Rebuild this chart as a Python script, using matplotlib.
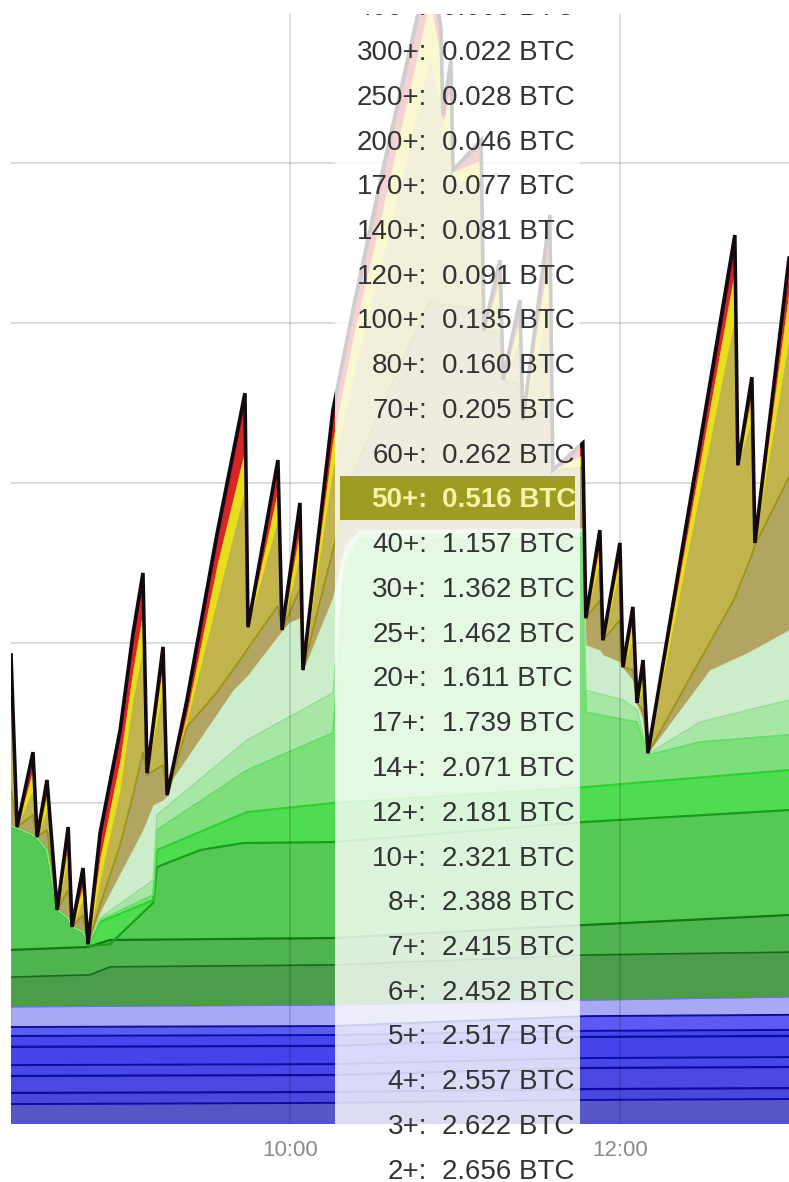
import matplotlib
matplotlib.use("Agg")
import matplotlib.pyplot as plt
from matplotlib.patches import Rectangle

plt.rcParams['font.family'] = ['Liberation Sans', 'DejaVu Sans']

# ---------------- data (time = minutes after midnight, value = BTC, cumulative stack tops)
top_t = [498.5, 500.7, 506.5, 508.0, 511.6, 515.3, 519.3, 520.7, 524.7, 526.5, 530.9, 538.2,
         542.9, 546.5, 548.0, 553.8, 555.3, 562.5, 573.5, 583.6, 584.7, 595.6, 597.1, 603.6,
         604.7, 615.6, 623.6, 634.5, 650.9, 654.9, 655.6, 658.5, 659.3, 669.5, 670.5, 676.4,
         677.5, 683.6, 684.7, 694.5, 695.6, 706.5, 707.6, 712.7, 713.8, 720.0, 721.1, 724.7,
         726.2, 728.4, 730.2, 761.8, 762.9, 768.0, 769.1, 781.5]
fee_all = [1.463, 0.925, 1.159, 0.894, 1.072, 0.666, 0.925, 0.613, 0.797, 0.559, 0.906, 1.228,
           1.531, 1.719, 1.094, 1.488, 1.025, 1.322, 1.844, 2.281, 1.550, 2.072, 1.541, 1.938,
           1.416, 2.228, 2.572, 3.009, 3.634, 3.422, 3.150, 3.322, 2.978, 3.072, 2.478, 2.697,
           2.322, 2.572, 2.197, 2.838, 2.041, 2.125, 1.578, 1.853, 1.509, 1.813, 1.425, 1.613,
           1.313, 1.447, 1.156, 2.775, 2.056, 2.331, 1.813, 2.703]
fee_80 = [1.441, 0.925, 1.150, 0.894, 1.063, 0.666, 0.916, 0.613, 0.788, 0.559, 0.891, 1.209,
          1.509, 1.697, 1.094, 1.475, 1.025, 1.303, 1.819, 2.259, 1.550, 2.056, 1.541, 1.922,
          1.416, 2.203, 2.547, 2.978, 3.603, 3.400, 3.141, 3.303, 2.978, 3.053, 2.478, 2.684,
          2.322, 2.559, 2.197, 2.816, 2.041, 2.116, 1.578, 1.844, 1.509, 1.803, 1.425, 1.603,
          1.313, 1.438, 1.156, 2.738, 2.056, 2.319, 1.813, 2.678]
fee_60 = [1.353, 0.925, 1.103, 0.894, 1.025, 0.666, 0.869, 0.613, 0.744, 0.559, 0.828, 1.134,
          1.416, 1.597, 1.094, 1.431, 1.025, 1.278, 1.744, 2.103, 1.550, 1.978, 1.541, 1.853,
          1.416, 2.134, 2.478, 2.884, 3.509, 3.322, 3.119, 3.228, 2.972, 3.009, 2.478, 2.634,
          2.322, 2.509, 2.197, 2.728, 2.041, 2.088, 1.578, 1.806, 1.509, 1.772, 1.425, 1.572,
          1.313, 1.409, 1.156, 2.666, 2.056, 2.275, 1.813, 2.597]
fee_50 = [1.228, 0.925, 1.041, 0.894, 0.978, 0.666, 0.822, 0.613, 0.697, 0.559, 0.759, 1.041,
          1.322, 1.478, 1.094, 1.353, 1.025, 1.253, 1.634, 1.978, 1.550, 1.884, 1.541, 1.775,
          1.416, 2.041, 2.353, 2.728, 3.322, 3.166, 3.041, 3.103, 2.947, 2.931, 2.478, 2.572,
          2.322, 2.447, 2.197, 2.572, 2.041, 2.056, 1.578, 1.759, 1.509, 1.728, 1.425, 1.509,
          1.313, 1.353, 1.156, 2.516, 2.056, 2.197, 1.813, 2.447]
fee_30 = [1.041, 0.925, 0.963, 0.894, 0.916, 0.666, 0.728, 0.613, 0.650, 0.559, 0.681, 0.869,
          1.025, 1.159, 1.088, 1.119, 1.025, 1.238, 1.347, 1.469, 1.484, 1.616, 1.541, 1.669,
          1.416, 1.791, 2.041, 2.259, 2.572, 2.556, 2.556, 2.556, 2.553, 2.541, 2.478, 2.463,
          2.322, 2.306, 2.197, 2.228, 2.041, 2.047, 1.578, 1.634, 1.509, 1.572, 1.425, 1.416,
          1.313, 1.291, 1.156, 1.641, 1.666, 1.775, 1.806, 2.019]

fee_20_t = [498.5, 500.7, 506.5, 508.0, 511.6, 515.3, 519.3, 520.7, 524.7, 526.5, 530.9, 546.5,
            550.2, 553.8, 555.3, 557.5, 579.3, 584.7, 595.6, 597.1, 600.0, 603.6, 604.7, 615.6,
            620.0, 625.5, 706.5, 707.6, 712.7, 713.8, 720.0, 721.1, 724.7, 726.2, 728.4, 730.2,
            752.7, 766.2, 781.5]
fee_20 = [0.928, 0.922, 0.900, 0.891, 0.853, 0.666, 0.641, 0.613, 0.597, 0.559, 0.659, 0.916,
          0.994, 1.009, 1.022, 1.078, 1.353, 1.400, 1.522, 1.538, 1.566, 1.578, 1.413, 1.644,
          1.806, 1.853, 1.859, 1.494, 1.478, 1.463, 1.441, 1.422, 1.384, 1.309, 1.259, 1.156,
          1.416, 1.469, 1.541]

fee_17_t = [498.5, 500.7, 506.5, 508.0, 511.6, 515.3, 519.3, 520.7, 524.7, 526.5, 530.9, 550.2,
            551.6, 584.4, 615.6, 620.0, 625.5, 706.5, 707.6, 721.1, 726.2, 730.2, 749.1, 781.5]
fee_17 = [0.928, 0.922, 0.900, 0.891, 0.853, 0.666, 0.641, 0.613, 0.597, 0.559, 0.641, 0.759,
          0.963, 1.197, 1.344, 1.759, 1.838, 1.844, 1.353, 1.322, 1.291, 1.153, 1.253, 1.322]

fee_12_t = [498.5, 500.7, 506.5, 508.0, 511.6, 515.3, 519.3, 520.7, 524.7, 526.5, 530.9, 550.2,
            551.6, 584.4, 615.6, 620.0, 625.5, 706.5, 707.6, 726.2, 730.2, 749.1, 781.5]
fee_12 = [0.928, 0.922, 0.900, 0.891, 0.853, 0.666, 0.641, 0.613, 0.597, 0.559, 0.634, 0.713,
          0.916, 1.103, 1.219, 1.728, 1.822, 1.828, 1.284, 1.253, 1.150, 1.191, 1.213]

fee_10_t = [498.5, 500.7, 506.5, 508.0, 511.6, 515.3, 519.3, 520.7, 524.7, 526.5, 530.9, 550.2,
            551.6, 584.4, 615.6, 707.6, 781.5]
fee_10 = [0.928, 0.922, 0.900, 0.891, 0.853, 0.666, 0.641, 0.613, 0.597, 0.556, 0.628, 0.697,
          0.853, 0.972, 1.000, 1.050, 1.103]

fee_8_t = [498.5, 500.7, 506.5, 508.0, 511.6, 515.3, 519.3, 520.7, 524.7, 526.5, 534.5, 550.2,
           551.6, 567.3, 582.9, 615.6, 707.6, 781.5]
fee_8 = [0.928, 0.922, 0.900, 0.891, 0.853, 0.666, 0.641, 0.613, 0.597, 0.553, 0.559, 0.688,
         0.800, 0.853, 0.875, 0.878, 0.941, 0.978]

fee_7_t = [498.5, 526.5, 534.5, 615.6, 707.6, 781.5]
fee_7 = [0.541, 0.550, 0.572, 0.578, 0.619, 0.650]
fee_6_t = [498.5, 527.3, 534.5, 615.6, 707.6, 781.5]
fee_6 = [0.456, 0.463, 0.488, 0.494, 0.525, 0.534]

low_t = [498.5, 615.6, 707.6, 781.5]
fee_5 = [0.363, 0.369, 0.384, 0.394]
fee_4b = [0.300, 0.303, 0.334, 0.338]
fee_4 = [0.272, 0.275, 0.288, 0.291]
fee_3b = [0.238, 0.241, 0.269, 0.272]
fee_3 = [0.181, 0.184, 0.203, 0.206]
fee_2b = [0.147, 0.150, 0.172, 0.175]
fee_2 = [0.094, 0.097, 0.106, 0.109]
fee_1 = [0.059, 0.063, 0.072, 0.075]

tick_times = [600, 720]
tick_labels = ["10:00", "12:00"]

tip_levels = ["400+", "300+", "250+", "200+", "170+", "140+", "120+", "100+", "80+", "70+",
              "60+", "50+", "40+", "30+", "25+", "20+", "17+", "14+", "12+", "10+", "8+",
              "7+", "6+", "5+", "4+", "3+", "2+"]
tip_values = [0.009, 0.022, 0.028, 0.046, 0.077, 0.081, 0.091, 0.135, 0.160, 0.205, 0.262,
              0.516, 1.157, 1.362, 1.462, 1.611, 1.739, 2.071, 2.181, 2.321, 2.388, 2.415,
              2.452, 2.517, 2.557, 2.622, 2.656]
tip_highlight = "50+"

# ---------------- figure
W, H = 789, 1182
fig = plt.figure(figsize=(W / 100, H / 100), dpi=100)
fig.patch.set_facecolor('white')
ax = fig.add_axes([11 / W, 59 / H, 778 / W, 1109 / H])
ax.set_xlim(498.5, 781.5)
ax.set_ylim(0, 3.466)
for s in ax.spines.values():
    s.set_visible(False)
ax.set_yticks([])
ax.set_xticks(tick_times)
ax.set_xticklabels(tick_labels)
ax.tick_params(axis='x', length=0, pad=12, labelsize=16, labelcolor='#8a8a8a')

for gy in [0.5, 1.0, 1.5, 2.0, 2.5, 3.0]:
    ax.axhline(gy, color='#d6d6d6', lw=1.2, zorder=0.5)

# layers from top of stack to bottom (painted in this order)
layers = [
    (top_t, fee_all, '#7d1d45', None, 0),
    (top_t, fee_80, '#d72424', None, 0),
    (top_t, fee_60, '#e8df1c', None, 0),
    (top_t, fee_50, '#c2b44c', None, 0),
    (top_t, fee_30, '#b2a462', '#9c9418', 1.3),
    (fee_20_t, fee_20, '#cbedc9', None, 0),
    (fee_17_t, fee_17, '#a7e6a5', '#8fe08d', 1.0),
    (fee_12_t, fee_12, '#7ddf7b', '#5fe05f', 1.2),
    (fee_10_t, fee_10, '#50dc50', '#27d427', 1.5),
    (fee_8_t, fee_8, '#55c955', '#1c9c1c', 1.6),
    (fee_7_t, fee_7, '#4fb34f', '#127a12', 1.6),
    (fee_6_t, fee_6, '#4b9d4b', '#1a6a1a', 1.2),
    (low_t, fee_5, '#a8a8f5', '#6e6ee0', 1.0),
    (low_t, fee_4b, '#5b5bf3', '#0c0ca0', 1.4),
    (low_t, fee_4, '#4646f0', '#0c0ca0', 1.4),
    (low_t, fee_3b, '#4444ec', '#0c0ca0', 1.6),
    (low_t, fee_3, '#4848e8', '#0c0ca0', 1.4),
    (low_t, fee_2b, '#4a4ae2', '#0c0ca0', 1.6),
    (low_t, fee_2, '#4848de', '#0c0ca0', 1.6),
    (low_t, fee_1, '#5656c6', '#0c0ca0', 1.4),
]
for i, (t, v, fc, ec, lw) in enumerate(layers):
    ax.fill_between(t, v, 0, facecolor=fc, edgecolor=fc, lw=0.3, zorder=1 + i * 0.01)
for i, (t, v, fc, ec, lw) in enumerate(reversed(layers)):
    if ec:
        ax.plot(t, v, color=ec, lw=lw, zorder=2 + i * 0.01, solid_joinstyle='miter')
ax.plot(top_t, fee_80, color='#8a1030', lw=1.0, zorder=2.8)
ax.plot(top_t, fee_all, color='#120a10', lw=2.6, zorder=3, solid_joinstyle='miter')

for tx in tick_times:
    ax.axvline(tx, color='black', alpha=0.16, lw=1.1, zorder=4)

# ---------------- tooltip (figure pixel layout)
def fx(px):
    return px / W

def fy(py):
    return 1 - py / H

fig.add_artist(Rectangle((fx(335), 0), 245 / W, 1, transform=fig.transFigure,
                         facecolor='white', alpha=0.8, edgecolor='none', zorder=10))
row0, step = 5.25, 44.75
for k, (lab, val) in enumerate(zip(tip_levels, tip_values)):
    cy = row0 + k * step
    if lab == tip_highlight:
        fig.add_artist(Rectangle((fx(340), fy(cy + 22)), 235 / W, 44 / H,
                                 transform=fig.transFigure, facecolor='#9e9c22',
                                 edgecolor='none', zorder=11))
        col, wt = '#f6f2a6', 'bold'
    else:
        col, wt = '#333333', 'normal'
    fig.text(fx(427), fy(cy + 10), lab + ":", ha='right', va='baseline', fontsize=20,
             color=col, fontweight=wt, zorder=12)
    fig.text(fx(442), fy(cy + 10), f"{val:.3f} BTC", ha='left', va='baseline', fontsize=20,
             color=col, fontweight=wt, zorder=12)

# white band above the plotting area
fig.add_artist(Rectangle((0, fy(14)), 1, 14 / H, transform=fig.transFigure,
                         facecolor='white', edgecolor='none', zorder=20))

fig.savefig('out.png', dpi=100, facecolor='white')
